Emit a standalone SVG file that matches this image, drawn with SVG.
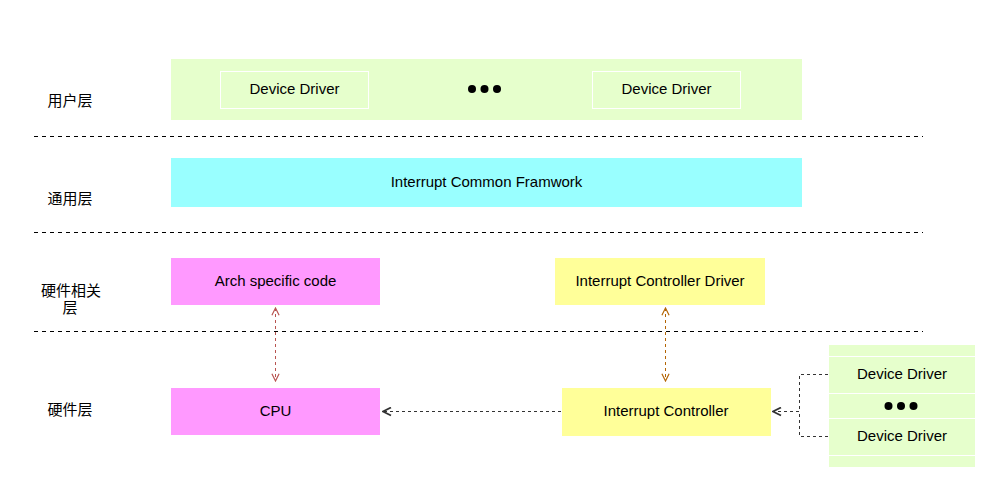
<svg xmlns="http://www.w3.org/2000/svg" width="1005" height="483" viewBox="0 0 1005 483">
<defs>
<style>
.t{font-family:"Liberation Sans",Arial,"Noto Sans CJK SC",sans-serif;font-size:15px;fill:#000;text-anchor:middle;dominant-baseline:central}
.sep{stroke:#000;stroke-width:1;stroke-dasharray:4 4;fill:none}
.g{fill:#E6FFCC}
.gi{fill:#E6FFCC;stroke:#fff;stroke-width:1}
.c{fill:#99FFFF}
.m{fill:#FF99FF}
.y{fill:#FFFF99}
.dot{fill:#000}
.ln{fill:none;stroke-dasharray:3 3;stroke-width:1}
</style>
<marker id="aR" viewBox="0 0 10 10" refX="9" refY="5" markerWidth="9" markerHeight="9" orient="auto-start-reverse" markerUnits="userSpaceOnUse">
<polyline points="1,1 9,5 1,9" fill="none" stroke="#B85450" stroke-width="1.3"/>
</marker>
<marker id="aO" viewBox="0 0 10 10" refX="9" refY="5" markerWidth="9" markerHeight="9" orient="auto-start-reverse" markerUnits="userSpaceOnUse">
<polyline points="1,1 9,5 1,9" fill="none" stroke="#B46504" stroke-width="1.3"/>
</marker>
<marker id="aK" viewBox="0 0 10 10" refX="9" refY="5" markerWidth="10" markerHeight="10" orient="auto" markerUnits="userSpaceOnUse">
<polyline points="1,1 9,5 1,9" fill="none" stroke="#333" stroke-width="1.8"/>
</marker>
</defs>
<rect width="1005" height="483" fill="#fff"/>

<g id="separators">
<line class="sep" x1="34" y1="136.5" x2="923" y2="136.5"/>
<line class="sep" x1="34" y1="232.5" x2="923" y2="232.5"/>
<line class="sep" x1="34" y1="331.5" x2="923" y2="331.5"/>
</g>

<g id="labels">
<text class="t" x="70" y="100">用户层</text>
<text class="t" x="70" y="198">通用层</text>
<text class="t" x="71" y="290">硬件相关</text>
<text class="t" x="70" y="307">层</text>
<text class="t" x="70" y="409">硬件层</text>
</g>

<g id="user-layer">
<rect class="g" x="171" y="59" width="631" height="61"/>
<g id="dd1"><rect class="gi" x="220.5" y="71.5" width="148" height="37"/><text class="t" x="294.5" y="88">Device Driver</text></g>
<g id="dots1"><circle class="dot" cx="472" cy="89" r="4"/><circle class="dot" cx="484.5" cy="89" r="4"/><circle class="dot" cx="497" cy="89" r="4"/></g>
<g id="dd2"><rect class="gi" x="592.5" y="71.5" width="148" height="37"/><text class="t" x="666.5" y="88">Device Driver</text></g>
</g>

<g id="common-framework">
<rect class="c" x="171" y="158" width="631" height="49"/>
<text class="t" x="486.5" y="181">Interrupt Common Framwork</text>
</g>

<g id="arch">
<rect class="m" x="171" y="258" width="209" height="47"/>
<text class="t" x="275.5" y="280">Arch specific code</text>
</g>

<g id="icd">
<rect class="y" x="555" y="258" width="210" height="47"/>
<text class="t" x="660" y="280">Interrupt Controller Driver</text>
</g>

<g id="cpu">
<rect class="m" x="171" y="388" width="209" height="47"/>
<text class="t" x="275.5" y="410">CPU</text>
</g>

<g id="ic">
<rect class="y" x="562" y="388" width="209" height="48"/>
<text class="t" x="666" y="410">Interrupt Controller</text>
</g>

<g id="hw-drivers">
<rect class="gi" x="828.5" y="344.5" width="147" height="12"/>
<rect class="gi" x="828.5" y="356.5" width="147" height="37"/>
<text class="t" x="902" y="373">Device Driver</text>
<rect class="gi" x="828.5" y="393.5" width="147" height="25"/>
<circle class="dot" cx="888.5" cy="406" r="4"/><circle class="dot" cx="901" cy="406" r="4"/><circle class="dot" cx="913.5" cy="406" r="4"/>
<rect class="gi" x="828.5" y="418.5" width="147" height="37"/>
<text class="t" x="902" y="435">Device Driver</text>
<rect class="gi" x="828.5" y="455.5" width="147" height="12"/>
</g>

<g id="connectors">
<line class="ln" stroke="#B85450" x1="275.5" y1="308" x2="275.5" y2="381" marker-start="url(#aR)" marker-end="url(#aR)"/>
<line class="ln" stroke="#B46504" x1="665.5" y1="308" x2="665.5" y2="381" marker-start="url(#aO)" marker-end="url(#aO)"/>
<line class="ln" stroke="#333" x1="561" y1="411.5" x2="383" y2="411.5" marker-end="url(#aK)"/>
<polyline class="ln" stroke="#333" points="828,374.5 799.5,374.5 799.5,411.5 773,411.5" marker-end="url(#aK)"/>
<polyline class="ln" stroke="#333" points="828,436.5 799.5,436.5 799.5,411.5"/>
</g>
</svg>
